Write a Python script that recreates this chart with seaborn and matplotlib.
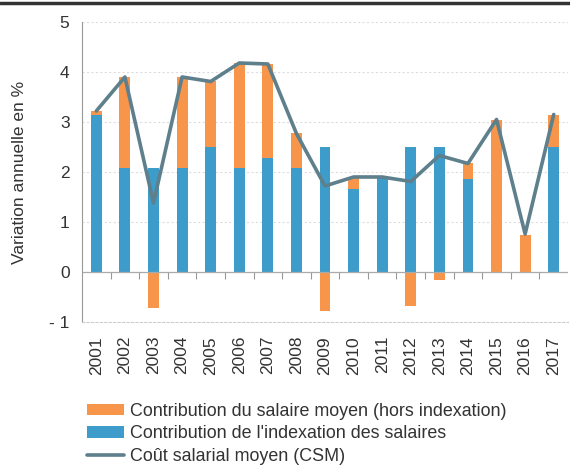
import numpy as np
import pandas as pd
import seaborn as sns
import matplotlib
matplotlib.use("Agg")
import matplotlib.pyplot as plt
from matplotlib.patches import Patch
from matplotlib.lines import Line2D

years = [str(y) for y in range(2001, 2018)]
indexation = [3.14, 2.07, 2.07, 2.07, 2.50, 2.07, 2.27, 2.07, 2.49, 1.65, 1.90, 2.49, 2.49, 1.85, 0.00, 0.00, 2.49]
salaire = [0.08, 1.83, -0.72, 1.83, 1.31, 2.10, 1.88, 0.70, -0.79, 0.22, 0.00, -0.68, -0.16, 0.32, 3.04, 0.74, 0.65]
csm = [3.22, 3.90, 1.38, 3.90, 3.81, 4.18, 4.16, 2.77, 1.72, 1.90, 1.90, 1.81, 2.33, 2.17, 3.05, 0.76, 3.15]

lab_sal = "Contribution du salaire moyen (hors indexation)"
lab_idx = "Contribution de l'indexation des salaires"
lab_csm = "Coût salarial moyen (CSM)"

c_orange = "#F7964A"
c_blue = "#3E9CCB"
c_line = "#5E7F8C"

sns.set_style("white")
plt.rcParams["font.family"] = ["Liberation Sans", "DejaVu Sans"]

df = pd.DataFrame({"year": years, "idx": indexation, "sal": salaire, "csm": csm})
df["sal_bottom"] = np.where(df["sal"] >= 0, df["idx"], 0.0)

fig = plt.figure(figsize=(5.7, 4.67), dpi=100)
ax = fig.add_axes([0.1439, 0.3105, 0.8526, 0.6424])

sns.barplot(data=df, x="year", y="idx", color=c_blue, width=0.38, saturation=1,
            ax=ax, linewidth=0)
sns.barplot(data=df, x="year", y="sal", color=c_orange, width=0.38, saturation=1,
            ax=ax, linewidth=0, bottom=df["sal_bottom"].to_numpy())
sns.lineplot(x=np.arange(len(years)), y=df["csm"], color=c_line, linewidth=2.6,
             ax=ax, zorder=5)

ax.set_ylim(-1, 5)
ax.set_xlim(-0.5, len(years) - 0.5)
ax.set_yticks(range(-1, 6))
ax.set_yticklabels(["- 1", "0", "1", "2", "3", "4", "5"], fontsize=12.5, color="#333333")
ax.set_xticks(range(len(years)))
ax.set_xticklabels(years, rotation=90, fontsize=12.5, color="#333333")
ax.tick_params(axis="x", length=0, pad=10)
ax.tick_params(axis="y", length=5, width=0.8, color="#999999", direction="out", pad=4)
ax.set_xlabel("")
ax.set_ylabel("Variation annuelle en %", fontsize=12.5, color="#333333", labelpad=16)

for y in [1, 2, 3, 4, 5]:
    ax.axhline(y, color="#dddddd", linewidth=0.8, linestyle=(0, (2, 2)), zorder=0)
ax.axhline(0, color="#aaaaaa", linewidth=0.9, zorder=1)

for s in ["top", "right"]:
    ax.spines[s].set_visible(False)
ax.spines["left"].set_color("#999999")
ax.spines["left"].set_linewidth(0.8)
ax.spines["bottom"].set_color("#cccccc")
ax.spines["bottom"].set_linestyle((0, (2, 2)))

sec = ax.secondary_xaxis(1 / 6)
sec.set_xticks(np.arange(0.5, len(years) - 0.5, 1.0))
sec.set_xticklabels([])
sec.tick_params(length=5, width=0.8, color="#999999", direction="out")
sec.spines["bottom"].set_visible(False)
sec.spines["top"].set_visible(False)

fig.add_artist(Line2D([0, 1], [1 - 3 / 467, 1 - 3 / 467], color="#333333", linewidth=2.5,
                      transform=fig.transFigure))

handles = [Patch(facecolor=c_orange, edgecolor="none", label=lab_sal),
           Patch(facecolor=c_blue, edgecolor="none", label=lab_idx),
           Line2D([], [], color=c_line, linewidth=2.6, label=lab_csm)]
fig.legend(handles=handles, loc="upper left", bbox_to_anchor=(0.152, 0.137),
           frameon=False, fontsize=12.9, handlelength=2.1, handleheight=0.6,
           handletextpad=0.3, labelspacing=0.3, borderaxespad=0, borderpad=0,
           labelcolor="#333333")

fig.savefig("out.png", dpi=100)
